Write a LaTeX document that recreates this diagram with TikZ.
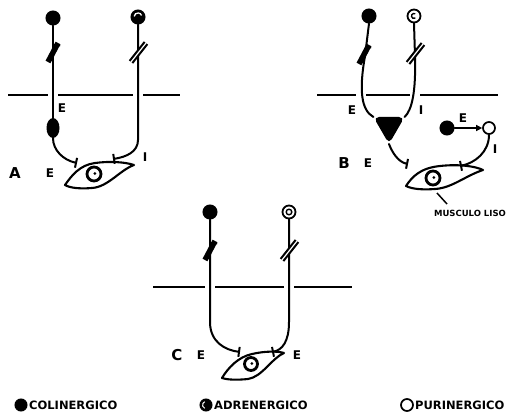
\documentclass[tikz,border=0pt]{standalone}
\usepackage{fontspec}
\setmainfont{DejaVu Sans}
\usetikzlibrary{arrows.meta,shapes.geometric}
\begin{document}
\begin{tikzpicture}[x=1pt,y=-1pt,
  axon/.style={line width=2pt, line cap=round},
  term/.style={axon, -{Bar[width=10pt,line width=2pt]}},
  border/.style={line width=1.7pt},
  cell/.style={line width=2.1pt, line join=round},
  soma/.style={circle, inner sep=0pt, minimum size=14pt, draw, line width=1pt},
  chol/.style={soma, fill=black},
  adrenA/.style={soma, fill=black, path picture={
      \draw[white, line width=1.3pt] ([xshift=-3.8pt,yshift=0.6pt]path picture bounding box.center)
        arc[start angle=175, end angle=20, radius=3.8pt];}},
  adrenB/.style={soma, fill=white, line width=1.8pt, minimum size=13pt, path picture={
      \draw[line width=1.3pt] ([xshift=1.25pt,yshift=2.2pt]path picture bounding box.center)
        arc[start angle=60, end angle=300, radius=2.5pt];}},
  adrenC/.style={soma, fill=white, line width=1.8pt, minimum size=13pt, path picture={
      \draw[line width=1.4pt] (path picture bounding box.center) circle[radius=2.8pt];}},
  adrenL/.style={soma, fill=black, minimum size=12pt, path picture={
      \draw[white, line width=1pt] ([xshift=-1.2pt,yshift=3.3pt]path picture bounding box.center)
        arc[start angle=110, end angle=250, radius=3.5pt];}},
  purin/.style={soma, fill=white, line width=1.7pt, minimum size=12pt},
  nucleus/.style={circle, draw, line width=2.8pt, inner sep=0pt, minimum size=14pt,
      path picture={\fill ([xshift=0.8pt,yshift=0.5pt]path picture bounding box.center) circle[radius=1.5pt];}},
  lbl/.style={font=\fontsize{12}{12}\selectfont\bfseries, inner sep=0pt},
  panel/.style={font=\fontsize{15}{15}\selectfont\bfseries, inner sep=0pt},
  legend/.style={font=\fontsize{11.5}{11.5}\selectfont\bfseries, inner sep=0pt, anchor=west},
  zbreak/.pic={\draw[line width=5.5pt] (-5,10) -- (5,-9);
               \draw[line width=2.2pt] (3,-6) -- (7,-7);},
  dbreak/.pic={\draw[line width=5.5pt] (-7,10) -- (8,-9);
               \draw[white, line width=1.2pt] (-7.8,11) -- (8.8,-10);}
]
\useasboundingbox (0,0) rectangle (511,417);

% ---------------- A ----------------
\node[chol] (Asl) at (53,18) {};
\node[adrenA] (Asr) at (138,17) {};
\node[ellipse, fill=black, inner sep=0pt, minimum width=13pt, minimum height=20pt] (Ag) at (53,128) {};
\coordinate (Aet) at (77,163);
\coordinate (Ait) at (113,159);
\draw[border] (8,95) -- (48,95) (58,95) -- (133,95) (143,95) -- (180,95);
\draw[axon] (Asl.south) -- (Ag.north);
\draw[term] (Ag.south) .. controls (53,150) and (63,160) .. (Aet);
\draw[term] (Asr.south) -- (138,140) .. controls (138,152) and (126,157) .. (Ait);
\pic at (53,52) {zbreak};
\pic at (138,52) {dbreak};
\draw[cell] (65,185) .. controls (72,175) and (80,165) .. (95,163)
            .. controls (110,161) and (125,162) .. (134,165)
            .. controls (120,170) and (108,187) .. (92,188)
            .. controls (80,189) and (70,188) .. cycle;
\node[nucleus] (An) at (94,174) {};
\node[lbl] (AlE1) at (62,108) {E};
\node[lbl] (AlI) at (145,157) {I};
\node[panel] (AlA) at (15,173) {A};
\node[lbl] (AlE2) at (50,173) {E};

% ---------------- B ----------------
\node[chol] (Bsl) at (369,16) {};
\node[adrenB] (Bsr) at (414,16) {};
\node[regular polygon, regular polygon sides=3, shape border rotate=180, fill=black, draw,
      line width=2pt, rounded corners=4pt, inner sep=0pt, minimum size=32pt] (Bg) at (389,126) {};
\node[chol, minimum size=14pt] (Bc) at (447,128) {};
\node[purin] (Bp) at (489,128) {};
\coordinate (Bet) at (408,164);
\coordinate (Bit) at (460,166);
\draw[border] (317,95) -- (356,95) (366,95) -- (410,95) (420,95) -- (498,95);
\draw[axon] (Bsl.south) -- (365,56) .. controls (359,90) and (361,110) .. (Bg.corner 3);
\draw[axon] (Bsr.south) -- (415,56) .. controls (416,92) and (412,110) .. (Bg.corner 2);
\draw[term] (Bg.corner 1) .. controls (392,152) and (398,162) .. (Bet);
\draw[axon, -{Triangle[length=6pt,width=6pt]}] (Bc) -- (Bp);
\draw[term] (Bp.south) .. controls (489,152) and (475,163) .. (Bit);
\pic at (364,54) {zbreak};
\pic at (415,53) {dbreak};
\draw[cell] (406,186) .. controls (412,177) and (420,168) .. (440,166)
            .. controls (458,164) and (475,166) .. (483,170)
            .. controls (465,176) and (452,188) .. (435,189)
            .. controls (422,190) and (412,189) .. cycle;
\node[nucleus] (Bn) at (433,178) {};
\coordinate (Bp1) at (437,193);
\coordinate (Bp2) at (447,204);
\draw[line width=1.5pt] (Bp1) -- (Bp2);
\node[font=\fontsize{8.5}{8.5}\selectfont\bfseries, inner sep=0pt] (Bml) at (470,213) {MUSCULO LISO};
\node[lbl] (BlE1) at (352,110) {E};
\node[lbl] (BlI1) at (421,110) {I};
\node[panel] (BlB) at (344,163) {B};
\node[lbl] (BlE2) at (368,163) {E};
\node[lbl] (BlE3) at (463,118) {E};
\node[lbl] (BlI2) at (495,149) {I};

% ---------------- C ----------------
\node[chol] (Csl) at (210,212) {};
\node[adrenC] (Csr) at (289,212) {};
\coordinate (Clt) at (240,352);
\coordinate (Crt) at (272,352);
\draw[border] (153,287) -- (205,287) (215,287) -- (284,287) (294,287) -- (352,287);
\draw[term] (Csl.south) -- (210,322) .. controls (210,342) and (225,350) .. (Clt);
\draw[term] (Csr.south) -- (289,322) .. controls (289,342) and (282,350) .. (Crt);
\pic at (210,250) {zbreak};
\pic at (289,250) {dbreak};
\draw[cell] (222,378) .. controls (228,368) and (238,357) .. (252,354)
            .. controls (265,351) and (278,351) .. (284,353)
            .. controls (272,358) and (262,377) .. (248,379)
            .. controls (238,380) and (228,380) .. cycle;
\node[nucleus, minimum size=13pt] (Cn) at (251,364) {};
\node[panel] (ClC) at (177,355) {C};
\node[lbl] (ClE1) at (201,355) {E};
\node[lbl] (ClE2) at (297,355) {E};

% ---------------- legend ----------------
\node[chol, minimum size=12pt] (Lc) at (21,405) {};
\node[legend] (Lct) at (29,405) {COLINERGICO};
\node[adrenL] (La) at (206,405) {};
\node[legend] (Lat) at (214,405) {ADRENERGICO};
\node[purin] (Lp) at (407,405) {};
\node[legend] (Lpt) at (415,405) {PURINERGICO};
\end{tikzpicture}
\end{document}
